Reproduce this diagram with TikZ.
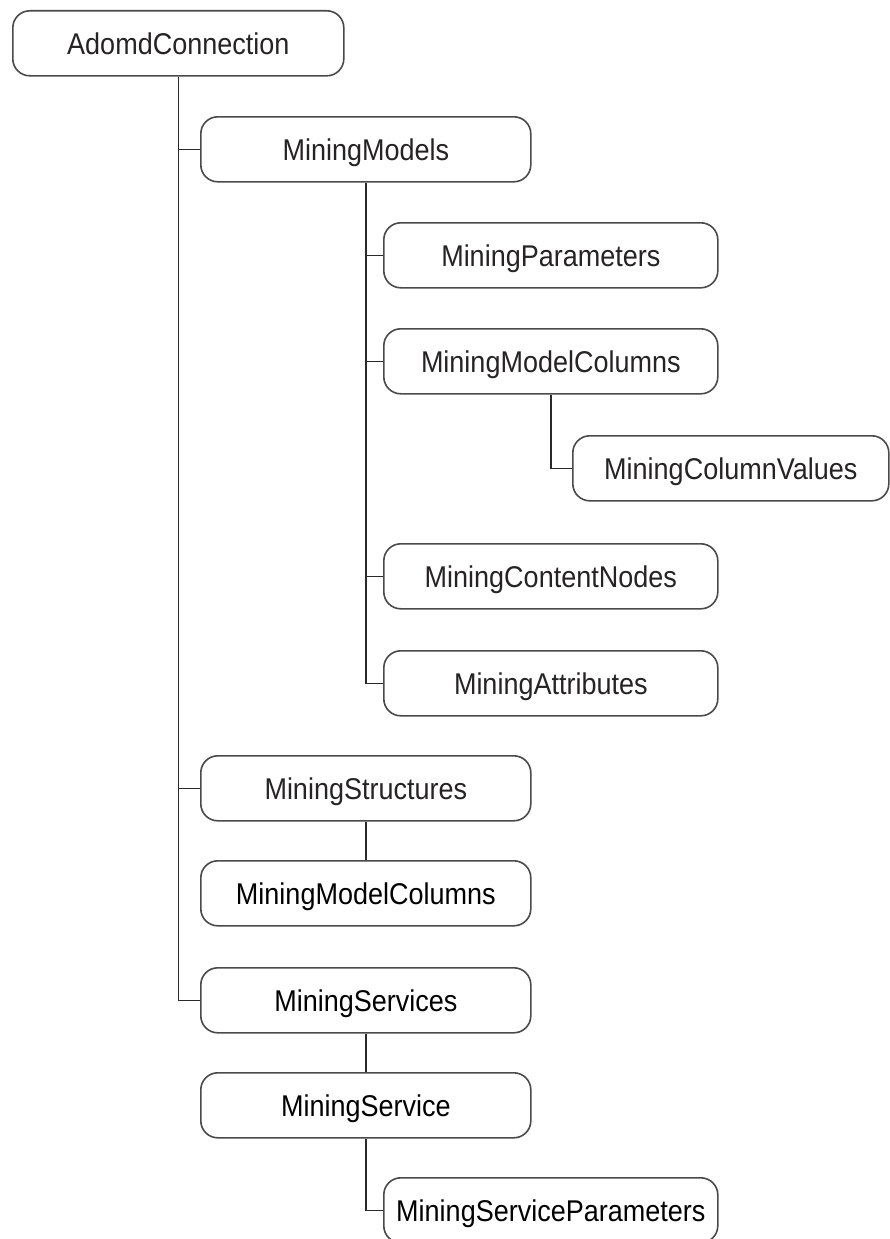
\documentclass[tikz,border=0pt]{standalone}
\usepackage{fontspec}
\newfontfamily\boxfont{Liberation Sans}[FakeStretch=0.9]
\definecolor{boxline}{HTML}{4A4A4A}
\definecolor{wire}{HTML}{2A2A2A}
\definecolor{ink}{HTML}{262324}
\tikzset{
  box/.style={draw=boxline, line width=1.6pt, rounded corners=17pt, fill=white,
    anchor=north west, minimum height=65pt, inner sep=0pt,
    text height=21.5pt, text depth=0pt, text=ink,
    font=\boxfont\fontsize{30pt}{30pt}\selectfont},
  c0/.style={box, minimum width=331pt},
  c1/.style={box, minimum width=330pt},
  c2/.style={box, minimum width=334pt},
  c3/.style={box, minimum width=316pt},
  link/.style={draw=wire, line width=1.5pt}
}
\begin{document}
\begin{tikzpicture}[x=1pt, y=-1pt]
\useasboundingbox (0,0) rectangle (890,1239);
\fill[white] (0,0) rectangle (890,1239);

% object tree
\node[c0] (adomd)    at (12,10)   {AdomdConnection};
\node[c1] (models)   at (200,116) {MiningModels};
\node[c2] (params)   at (383,222) {MiningParameters};
\node[c2] (mcols)    at (383,328) {MiningModelColumns};
\node[c3] (colvals)  at (572,435) {MiningColumnValues};
\node[c2] (content)  at (383,543) {MiningContentNodes};
\node[c2] (attrs)    at (383,650) {MiningAttributes};
\node[c1] (structs)  at (200,755) {MiningStructures};
\node[c1, text=black] (scols)    at (200,860)  {MiningModelColumns};
\node[c1, text=black] (services) at (200,967)  {MiningServices};
\node[c1, text=black] (service)  at (200,1072) {MiningService};
\node[c2, text=black] (sparams)  at (383,1177) {MiningServiceParameters};

% connectors from AdomdConnection
\draw[link] (adomd.south) |- (services.west);
\draw[link] (adomd.south |- models.west) -- (models.west);
\draw[link] (adomd.south |- structs.west) -- (structs.west);

% connectors from MiningModels
\draw[link] (models.south) |- (attrs.west);
\draw[link] (models.south |- params.west) -- (params.west);
\draw[link] (models.south |- mcols.west) -- (mcols.west);
\draw[link] (models.south |- content.west) -- (content.west);

% MiningModelColumns -> MiningColumnValues
\draw[link] (mcols.south) |- (colvals.west);

% structures and services
\draw[link] (structs.south) -- (scols.north);
\draw[link] (services.south) -- (service.north);
\draw[link] (service.south) |- (sparams.west);
\end{tikzpicture}
\end{document}
